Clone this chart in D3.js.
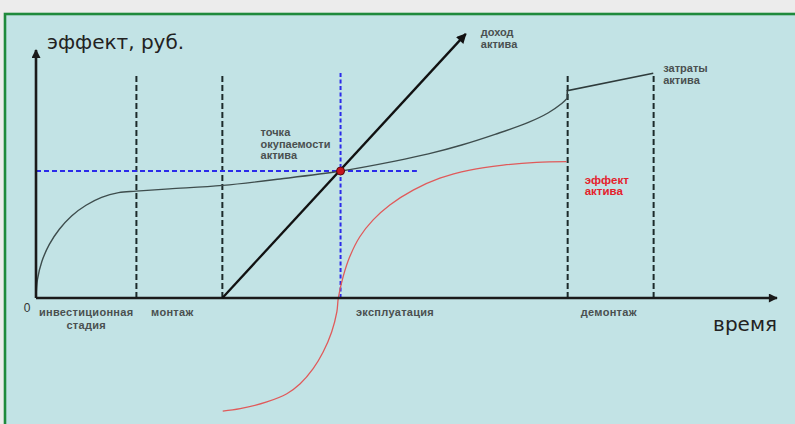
<!DOCTYPE html>
<html><head><meta charset="utf-8">
<script src="https://cdn.jsdelivr.net/npm/d3@7"></script>
<style>html,body{margin:0;padding:0;background:#ececec;} svg{display:block}</style>
</head><body><svg id="c" width="795" height="424"></svg>
<script>
// ---- data (time in arbitrary units, effect in arbitrary roubles) ----
const phaseBounds = [0, 2.71, 5.03, 14.35, 16.67];
const phaseNames = [["инвестиционная", "стадия"], ["монтаж"], ["эксплуатация"], ["демонтаж"]];
const phaseLabelShift = [0, -0.19, 0, -0.05];
const guideTop = 9.07;
const paybackT = 8.22, paybackV = 5.12, paybackLineEnd = 10.28;
const paybackLabel = ["точка", "окупаемости", "актива"];

const costT = [0, 0.04, 0.16, 0.36, 0.63, 0.96, 1.35, 1.77, 2.23, 2.70, 3.6, 5.04, 6.59, 8.23, 9.69, 10.59, 11.49, 12.39, 13.29, 13.83, 14.19, 14.34];
const costV = [0, 0.75, 1.48, 2.16, 2.77, 3.31, 3.74, 4.06, 4.25, 4.31, 4.40, 4.54, 4.80, 5.12, 5.52, 5.81, 6.17, 6.60, 7.08, 7.47, 7.84, 8.05];
const costTailT = [14.34, 14.34, 16.66];
const costTailV = [8.05, 8.36, 9.06];
const costLabel = ["затраты", "актива"];

const incomeT = [5.03, 11.6];
const incomeV = [0, 10.65];
const incomeLabel = ["доход", "актива"];

const effectT = [5.04, 5.51, 6.23, 6.77, 7.13, 7.48, 7.75, 7.98, 8.12, 8.16, 8.29, 8.47, 8.74, 9.10, 9.55, 10.18, 10.90, 11.71, 12.61, 13.51, 14.32];
const effectV = [-4.56, -4.46, -4.19, -3.86, -3.46, -2.85, -2.18, -1.37, -0.56, 0, 0.86, 1.67, 2.47, 3.15, 3.75, 4.35, 4.83, 5.16, 5.36, 5.47, 5.50];
const effectLabel = ["эффект", "актива"];

const yAxisTitle = "эффект, руб.";
const xAxisTitle = "время";
const originLabel = "0";

// ---- drawing ----
const svg = d3.select("#c");
const x = d3.scaleLinear().domain([0, 20]).range([36, 777]);
const y = d3.scaleLinear().domain([-5, 10]).range([422, 50]);

// panel
svg.append("rect").attr("x", 0).attr("y", 0).attr("width", 795).attr("height", 424).attr("fill", "#ececec");
svg.append("rect").attr("x", 5).attr("y", 14).attr("width", 820).attr("height", 440)
  .attr("fill", "#c2e3e5").attr("stroke", "#1f8a3c").attr("stroke-width", 2.6);

const defs = svg.append("defs");
function marker(id, color, w, h) {
  defs.append("marker").attr("id", id).attr("viewBox", "0 0 10 10").attr("refX", 9).attr("refY", 5)
    .attr("markerUnits", "userSpaceOnUse").attr("markerWidth", w).attr("markerHeight", h).attr("orient", "auto")
    .append("path").attr("d", "M0,0 L10,5 L0,10 Z").attr("fill", color);
}
marker("arrAxis", "#1a1a1a", 11, 9);
marker("arrInc", "#111", 11, 10);

const smooth = d3.line().x(d => x(d[0])).y(d => y(d[1])).curve(d3.curveCatmullRom.alpha(0.5));
const straight = d3.line().x(d => x(d[0])).y(d => y(d[1]));
const zip = (a, b) => a.map((v, i) => [v, b[i]]);

// phase dashed lines
svg.selectAll("line.phase").data(phaseBounds.slice(1)).join("line")
  .attr("x1", d => x(d)).attr("x2", d => x(d)).attr("y1", y(0)).attr("y2", y(guideTop))
  .attr("stroke", "#1c2a2a").attr("stroke-width", 2).attr("stroke-dasharray", "6,3");

// payback guides
svg.append("line").attr("x1", x(0)).attr("x2", x(paybackLineEnd)).attr("y1", y(paybackV)).attr("y2", y(paybackV))
  .attr("stroke", "#2b2bea").attr("stroke-width", 2).attr("stroke-dasharray", "5,3");
svg.append("line").attr("x1", x(paybackT)).attr("x2", x(paybackT)).attr("y1", y(0)).attr("y2", y(guideTop))
  .attr("stroke", "#2b2bea").attr("stroke-width", 2).attr("stroke-dasharray", "4,2.5");

// cost curve
svg.append("path").datum(zip(costT, costV)).attr("d", smooth)
  .attr("fill", "none").attr("stroke", "#3e4d4d").attr("stroke-width", 1.4);
svg.append("path").datum(zip(costTailT, costTailV)).attr("d", straight)
  .attr("fill", "none").attr("stroke", "#2e3b3b").attr("stroke-width", 1.6);

// effect curve
svg.append("path").datum(zip(effectT, effectV)).attr("d", smooth)
  .attr("fill", "none").attr("stroke", "#e05a5a").attr("stroke-width", 1.3);

// axes
svg.append("line").attr("x1", x(0)).attr("x2", x(20)).attr("y1", y(0)).attr("y2", y(0))
  .attr("stroke", "#1a1a1a").attr("stroke-width", 2.6).attr("marker-end", "url(#arrAxis)");
svg.append("line").attr("x1", x(0)).attr("x2", x(0)).attr("y1", y(0)).attr("y2", y(10))
  .attr("stroke", "#1a1a1a").attr("stroke-width", 2.6).attr("marker-end", "url(#arrAxis)");

// income line
svg.append("path").datum(zip(incomeT, incomeV)).attr("d", straight)
  .attr("fill", "none").attr("stroke", "#111").attr("stroke-width", 2.3).attr("marker-end", "url(#arrInc)");

// payback point
svg.append("circle").attr("cx", x(paybackT)).attr("cy", y(paybackV)).attr("r", 4)
  .attr("fill", "#c8141c").attr("stroke", "#5a0a0a").attr("stroke-width", 1);

// texts
const small = (sel) => sel.attr("font-family", "Liberation Sans, Arial, sans-serif").attr("font-size", 11)
  .attr("font-weight", "bold").attr("fill", "#4a5050");

function block(lines, tx, ty, anchor, lh) {
  const t = svg.append("text").attr("x", tx).attr("y", ty).attr("text-anchor", anchor);
  lines.forEach((s, i) => t.append("tspan").attr("x", tx).attr("dy", i ? lh : 0).text(s));
  return t;
}

phaseNames.forEach((ls, i) => {
  const mid = (phaseBounds[i] + phaseBounds[i + 1]) / 2 + phaseLabelShift[i];
  small(block(ls, x(mid), y(0) + 18, "middle", 13)).attr("letter-spacing", 0.3);
});

small(block(paybackLabel, x(paybackT) - 80, y(paybackV) - 35, "start", 11.5));
small(block(incomeLabel, x(incomeT[1]) + 15, 36, "start", 11.5));
small(block(costLabel, x(costTailT[2]) + 10, 72, "start", 11.5));
small(block(effectLabel, x(phaseBounds[3]) + 17, y(effectV[effectV.length - 1]) + 22, "start", 11.5))
  .attr("fill", "#e4222c").attr("font-size", 11.5);

svg.append("text").attr("x", x(0) + 11).attr("y", y(10) - 1).text(yAxisTitle)
  .attr("font-family", "DejaVu Sans, sans-serif").attr("font-size", 20).attr("fill", "#222");
svg.append("text").attr("x", x(20)).attr("y", y(0) + 33).attr("text-anchor", "end").text(xAxisTitle)
  .attr("font-family", "DejaVu Sans, sans-serif").attr("font-size", 20).attr("fill", "#222");
svg.append("text").attr("x", x(0) - 9).attr("y", y(0) + 14).attr("text-anchor", "middle").text(originLabel)
  .attr("font-family", "Liberation Sans, Arial, sans-serif").attr("font-size", 12).attr("fill", "#333");
</script></body></html>
